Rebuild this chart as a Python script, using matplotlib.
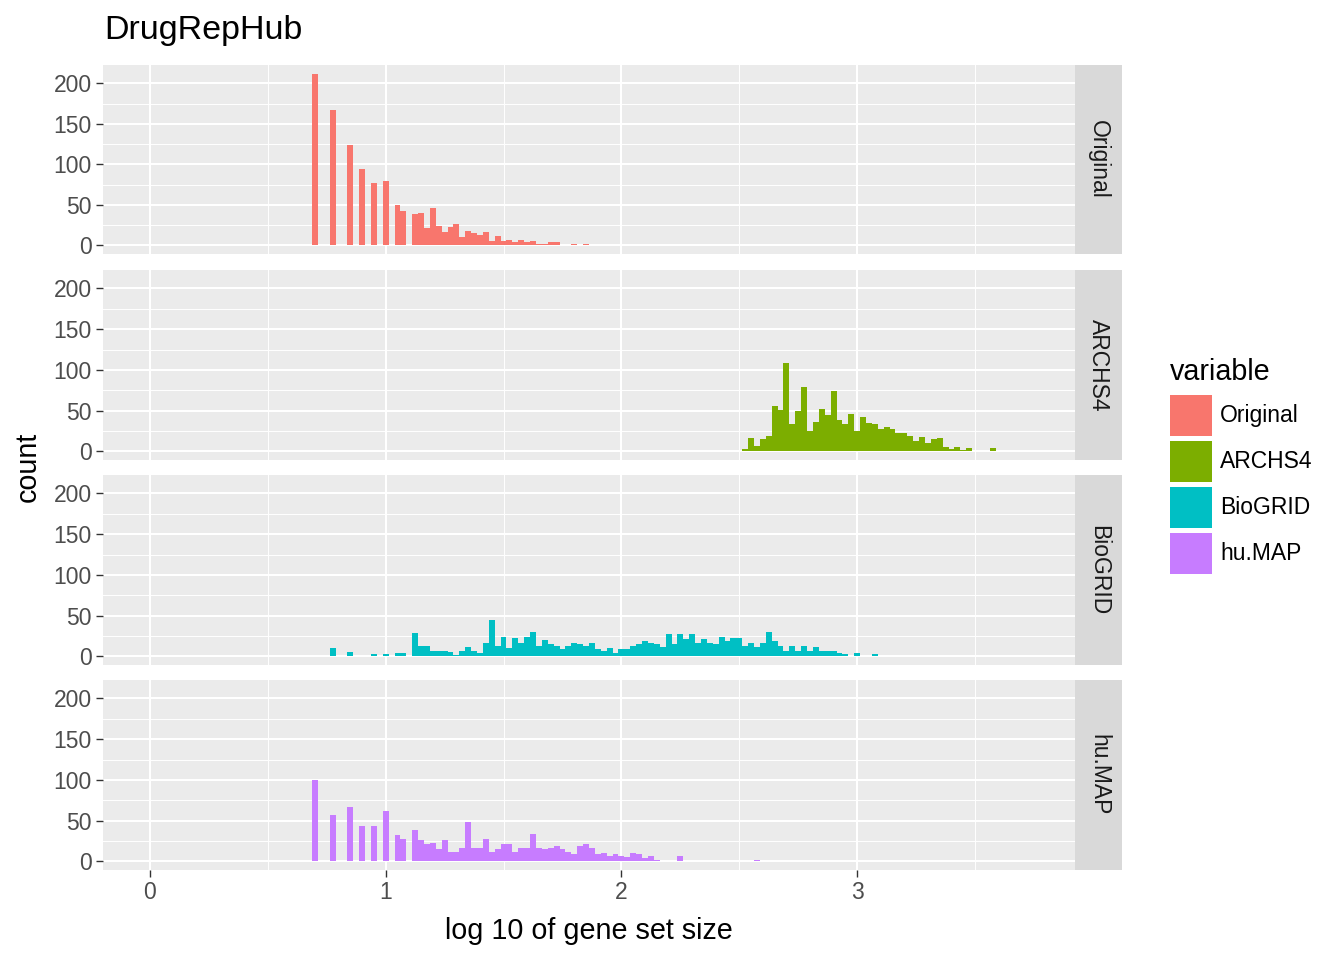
import numpy as np
import matplotlib
matplotlib.use('Agg')
import matplotlib.pyplot as plt
from matplotlib.patches import Rectangle

plt.rcParams['font.family'] = ['Liberation Sans', 'DejaVu Sans']

# histogram bins are centred on multiples of bin_width (log10 scale)
bin_width = 0.025

series = ['Original', 'ARCHS4', 'BioGRID', 'hu.MAP']
colors = ['#F8766D', '#7CAE00', '#00BFC4', '#C77CFF']

# first bin index + counts per bin
original_start = 28
original_counts = [212, 0, 0, 167, 0, 0, 124, 0, 94, 0, 77, 0, 80, 0, 50, 43, 0,
                   39, 40, 22, 46, 24, 16, 23, 27, 10, 18, 15, 13, 16, 5, 12, 6,
                   7, 4, 7, 4, 5, 2, 2, 4, 4, 1, 0, 2, 0, 2, 1, 1]

archs4_start = 99
archs4_counts = [1, 1, 3, 16, 7, 15, 19, 56, 51, 109, 34, 50, 79, 25, 36, 52,
                 45, 74, 39, 34, 46, 25, 42, 35, 33, 27, 30, 27, 23, 23, 19, 13,
                 18, 10, 15, 16, 5, 3, 5, 2, 4, 0, 0, 0, 4, 0, 1]

biogrid_start = 0
biogrid_counts = [1, 0, 0, 0, 0, 0, 0, 0, 0, 0, 0, 0, 0, 0, 0, 0, 0, 0, 0, 0,
                  0, 0, 0, 0, 0, 0, 0, 0, 0, 0, 0, 10, 0, 0, 5, 0, 0, 0, 3, 0,
                  3, 0, 4, 4, 0, 29, 13, 13, 7, 7, 7, 5, 2, 7, 12, 7, 4, 17, 45, 13,
                  24, 10, 23, 16, 24, 30, 13, 20, 15, 13, 9, 13, 16, 15, 13, 17, 9, 7, 10, 4,
                  9, 9, 13, 15, 19, 17, 15, 12, 27, 15, 27, 21, 28, 16, 21, 17, 15, 24, 19, 22,
                  22, 13, 17, 12, 17, 30, 19, 13, 7, 13, 7, 13, 7, 11, 7, 7, 6, 4, 3, 1,
                  4, 1, 1, 3, 0, 0, 0, 1, 0, 1]

humap_start = 28
humap_counts = [100, 0, 0, 57, 0, 0, 67, 0, 44, 0, 44, 0, 62, 0, 32, 28, 0,
                38, 26, 21, 22, 15, 26, 12, 12, 16, 48, 16, 16, 27, 12, 15, 21,
                21, 11, 16, 17, 33, 16, 15, 16, 19, 15, 12, 9, 19, 21, 17, 9,
                10, 7, 9, 6, 5, 10, 9, 4, 7, 2, 1, 1, 1, 6, 1, 1, 0, 0, 0, 1,
                0, 0, 0, 0, 0, 0, 2]

starts = [original_start, archs4_start, biogrid_start, humap_start]
counts = [original_counts, archs4_counts, biogrid_counts, humap_counts]

W, H = 1344, 960


def px_rect(l, t, r, b):
    return [l / W, 1 - b / H, (r - l) / W, (b - t) / H]


panel_px = [(65, 254), (270, 460), (475, 665), (680, 870)]

fig = plt.figure(figsize=(W / 100, H / 100), dpi=100)

for i, name in enumerate(series):
    top, bot = panel_px[i]
    ax = fig.add_axes(px_rect(103, top, 1075, bot))
    ax.set_facecolor('#EBEBEB')
    for s in ax.spines.values():
        s.set_visible(False)
    c = np.array(counts[i])
    centers = (starts[i] + np.arange(len(c))) * bin_width
    ax.bar(centers, c, width=bin_width, color=colors[i], linewidth=0, zorder=3)
    ax.set_xlim(-0.199, 3.924)
    ax.set_ylim(-10.6, 222.6)
    ax.set_xticks([0, 1, 2, 3])
    ax.set_xticks([0.5, 1.5, 2.5, 3.5], minor=True)
    ax.set_yticks([0, 50, 100, 150, 200])
    ax.set_yticks([25, 75, 125, 175], minor=True)
    ax.grid(which='major', color='white', linewidth=1.45, zorder=0)
    ax.grid(which='minor', color='white', linewidth=0.7, zorder=0)
    ax.set_axisbelow(True)
    ax.tick_params(which='major', labelsize=16.5, colors='#333333', labelcolor='#4D4D4D',
                   length=5, width=1, pad=3)
    ax.tick_params(which='minor', length=0)
    if i < 3:
        ax.tick_params(axis='x', bottom=False, labelbottom=False)

    sax = fig.add_axes(px_rect(1075, top, 1122, bot))
    sax.set_facecolor('#D9D9D9')
    for s in sax.spines.values():
        s.set_visible(False)
    sax.set_xticks([])
    sax.set_yticks([])
    sax.text(0.5, 0.5, name, rotation=-90, ha='center', va='center',
             fontsize=16.5, color='#1A1A1A', transform=sax.transAxes)

fig.text(104 / W, 1 - 30 / H, 'DrugRepHub', fontsize=24.5, ha='left', va='center')
fig.text(589 / W, 1 - 931 / H, 'log 10 of gene set size', fontsize=20.7,
         ha='center', va='center')
fig.text(28 / W, 1 - 467 / H, 'count', fontsize=20.7, rotation=90,
         ha='center', va='center')

# legend
fig.text(1170 / W, 1 - 372 / H, 'variable', fontsize=20.7, ha='left', va='center')
for i, name in enumerate(series):
    ktop = 395 + i * 46
    fig.add_artist(Rectangle((1170 / W, 1 - (ktop + 41) / H), 42 / W, 41 / H,
                             transform=fig.transFigure, facecolor=colors[i],
                             edgecolor='none'))
    fig.text(1220 / W, 1 - (ktop + 20.5) / H, name, fontsize=16.5,
             ha='left', va='center')

fig.savefig('out.png', dpi=100)
